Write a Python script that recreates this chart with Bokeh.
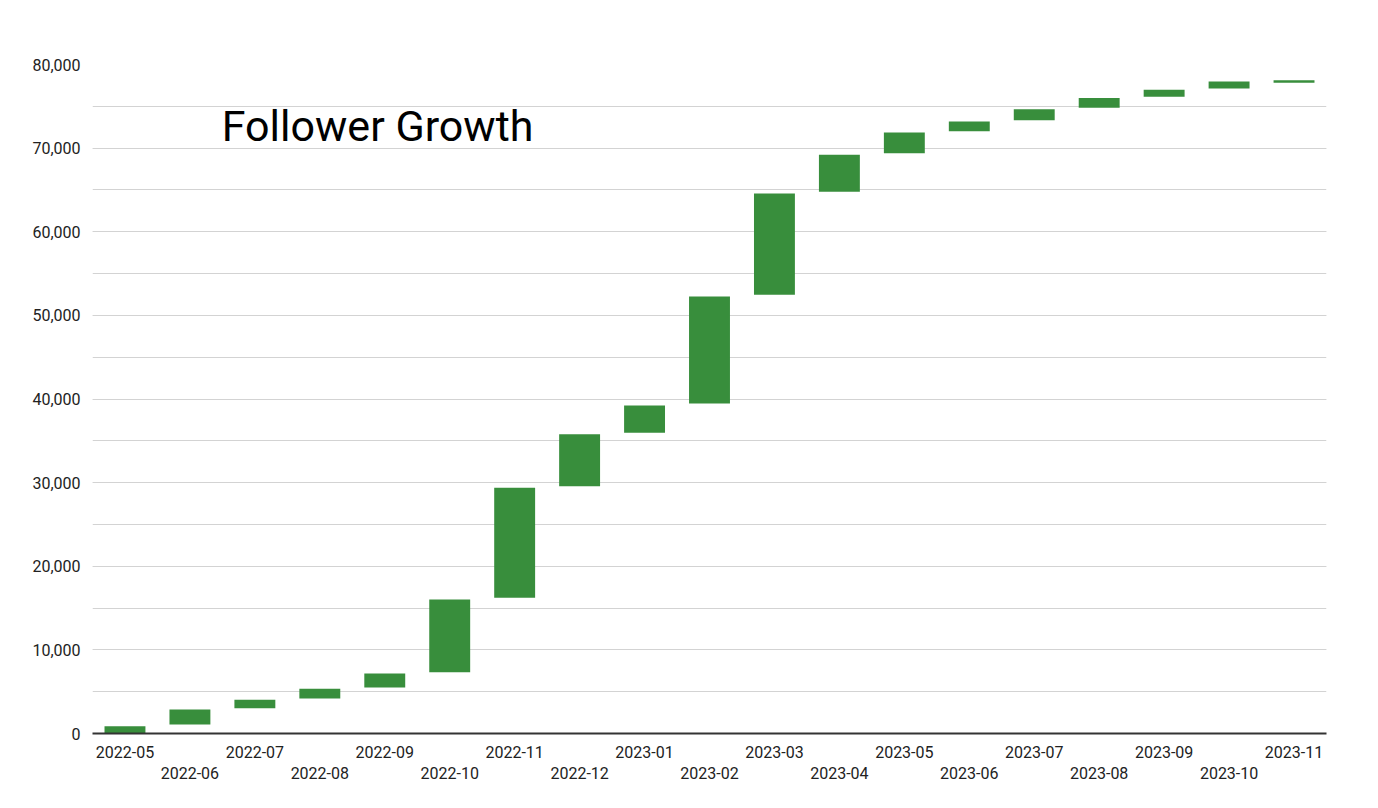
from bokeh.plotting import figure
from bokeh.models import (Range1d, SingleIntervalTicker, NumeralTickFormatter,
                          LinearAxis, FixedTicker, Label)
from bokeh.embed import file_html
from bokeh.resources import INLINE

months = ["2022-05", "2022-06", "2022-07", "2022-08", "2022-09", "2022-10", "2022-11",
          "2022-12", "2023-01", "2023-02", "2023-03", "2023-04", "2023-05", "2023-06",
          "2023-07", "2023-08", "2023-09", "2023-10", "2023-11"]
start_vals = [0, 1080, 3030, 4190, 5500, 7330, 16220, 29580, 35950, 39460, 52460,
              64780, 69400, 72020, 73340, 74820, 76140, 77130, 77810]
end_vals = [870, 2870, 4030, 5340, 7170, 16020, 29380, 35790, 39220, 52260, 64570,
            69200, 71870, 73180, 74660, 75980, 76980, 77970, 78130]
title_text = "Follower Growth"

FONT = "Roboto"
idx = list(range(len(months)))

p = figure(x_range=Range1d(-0.5, len(months) - 0.5),
           y_range=Range1d(0, 80000),
           width=1362, height=792, output_backend="svg", toolbar_location=None,
           min_border_left=92, min_border_right=36, min_border_top=64, min_border_bottom=59)
p.outline_line_color = None
p.background_fill_color = "white"
p.border_fill_color = "white"

p.vbar(x=idx, bottom=start_vals, top=end_vals, width=0.63,
       fill_color="#388e3c", line_color=None)

# y axis
yax = p.yaxis[0]
yax.ticker = SingleIntervalTicker(interval=10000, num_minor_ticks=2)
yax.formatter = NumeralTickFormatter(format="0,0")
yax.axis_line_color = None
yax.major_tick_line_color = None
yax.minor_tick_line_color = None
yax.major_label_text_font = FONT
yax.major_label_text_font_size = "16px"
yax.major_label_text_color = "#222222"
yax.major_label_standoff = 6

p.xgrid.grid_line_color = None
p.ygrid.grid_line_color = "#d3d3d3"
p.ygrid.minor_grid_line_color = "#d3d3d3"
p.ygrid.grid_line_width = 1.2
p.ygrid.minor_grid_line_width = 1.2

labels = {i: m for i, m in enumerate(months)}

# x axis, row 1 (even labels)
xax = p.xaxis[0]
xax.ticker = FixedTicker(ticks=[i for i in idx if i % 2 == 0])
xax.major_label_overrides = labels
xax.axis_line_color = "#333333"
xax.axis_line_width = 2
xax.major_tick_line_color = None
xax.minor_tick_line_color = None
xax.major_tick_out = 0
xax.major_tick_in = 0
xax.major_label_text_font = FONT
xax.major_label_text_font_size = "16px"
xax.major_label_text_color = "#222222"
xax.major_label_standoff = 12

# x axis, row 2 (odd labels)
xax2 = LinearAxis(ticker=FixedTicker(ticks=[i for i in idx if i % 2 == 1]))
xax2.major_label_overrides = labels
xax2.axis_line_color = None
xax2.major_tick_line_color = None
xax2.minor_tick_line_color = None
xax2.major_tick_out = 0
xax2.major_tick_in = 0
xax2.major_label_text_font = FONT
xax2.major_label_text_font_size = "16px"
xax2.major_label_text_color = "#222222"
xax2.major_label_standoff = 6
p.add_layout(xax2, "below")

title = Label(x=1.49, y=72600, text=title_text, text_font=FONT, text_font_size="43px",
              text_color="#000000", text_baseline="alphabetic", text_align="left")
p.add_layout(title)

open("out.html", "w").write(file_html(p, INLINE))
